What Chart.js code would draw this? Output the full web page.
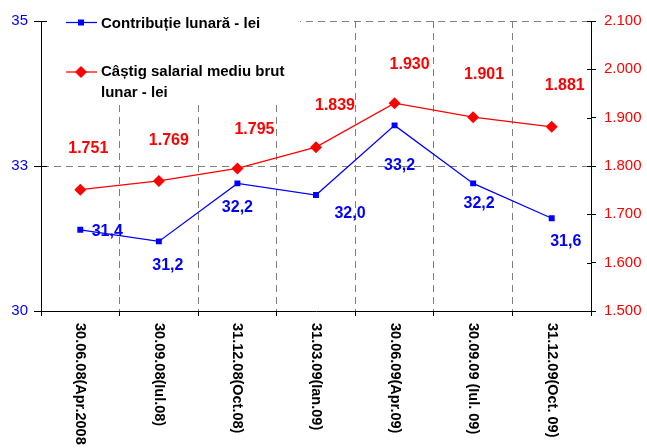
<!DOCTYPE html>
<html>
<head>
<meta charset="utf-8">
<script src="https://cdn.jsdelivr.net/npm/chart.js@4.4.1/dist/chart.umd.min.js"></script>
<style>
  html, body { margin: 0; padding: 0; background: #fff; }
  #wrap { width: 647px; height: 448px; position: relative; }
</style>
</head>
<body>
<div id="wrap"><canvas id="myChart"></canvas></div>
<script>
const categories = ['30.06.08(Apr.2008', '30.09.08(Iul.08)', '31.12.08(Oct.08)', '31.03.09(Ian.09)',
    '30.06.09(Apr.09)', '30.09.09 (Iul. 09)', '31.12.09(Oct. 09)'];
const contributie = [31.4, 31.2, 32.2, 32.0, 33.2, 32.2, 31.6];
const castig = [1751, 1769, 1795, 1839, 1930, 1901, 1881];
const leftTicks = { min: 30, max: 35, step: 2.5 };
const rightTicks = { min: 1500, max: 2100, step: 100 };
const seriesNames = ['Contribuție lunară - lei', ['Câștig salarial mediu brut', 'lunar - lei']];

// where each value label sits relative to its point (px)
const blueLabelOffsets = [[27, 2], [9, 24], [0, 24], [34, 19], [5, 40], [6, 20], [14, 23]];
const redLabelOffsets = [[8, -41], [10, -40], [17, -39], [19, -42], [15, -39], [11, -43], [13, -41]];

const FONT = "'Liberation Sans', Arial, sans-serif";
const BLUE = '#0000FF';
const RED = '#FF0000';
const DASH = [7, 5];

function thousands(v) {
    return String(Math.round(v)).replace(/\B(?=(\d{3})+(?!\d))/g, '.');
}
function decimalComma(v) {
    return v.toFixed(1).replace('.', ',');
}

const legendBox = {
    id: 'legendBox',
    beforeDatasetsDraw(chart) {
        const ctx = chart.ctx;
        const a = chart.chartArea;
        ctx.save();
        ctx.fillStyle = '#fff';
        ctx.fillRect(a.left + 1, 0, 258, 103);

        // blue item
        ctx.strokeStyle = BLUE;
        ctx.lineWidth = 1.25;
        ctx.beginPath(); ctx.moveTo(66, 22.5); ctx.lineTo(97, 22.5); ctx.stroke();
        ctx.fillStyle = BLUE;
        ctx.fillRect(78, 19.5, 6, 6);

        // red item
        ctx.strokeStyle = RED;
        ctx.beginPath(); ctx.moveTo(66, 72); ctx.lineTo(97, 72); ctx.stroke();
        ctx.fillStyle = RED;
        ctx.beginPath();
        ctx.moveTo(81, 66); ctx.lineTo(87, 72); ctx.lineTo(81, 78); ctx.lineTo(75, 72);
        ctx.closePath(); ctx.fill();

        ctx.fillStyle = '#000';
        ctx.font = 'bold 15px ' + FONT;
        ctx.textAlign = 'left';
        ctx.textBaseline = 'alphabetic';
        ctx.fillText(seriesNames[0], 101, 28);
        ctx.fillText(seriesNames[1][0], 101, 76);
        ctx.fillText(seriesNames[1][1], 101, 97);
        ctx.restore();
    }
};

const labelsPlugin = {
    id: 'labelsPlugin',
    afterDatasetsDraw(chart) {
        const ctx = chart.ctx;
        ctx.save();

        // inner half of the y tick marks (they cross the axis)
        const yl = chart.scales.y, yr = chart.scales.y1;
        ctx.strokeStyle = '#000';
        ctx.lineWidth = 1;
        ctx.beginPath();
        yl.ticks.forEach(t => {
            const py = Math.round(yl.getPixelForValue(t.value)) + 0.5;
            ctx.moveTo(yl.right, py); ctx.lineTo(yl.right + 6, py);
        });
        yr.ticks.forEach(t => {
            const py = Math.round(yr.getPixelForValue(t.value)) + 0.5;
            ctx.moveTo(yr.left - 4, py); ctx.lineTo(yr.left, py);
        });
        ctx.stroke();

        ctx.font = 'bold 16px ' + FONT;
        ctx.textAlign = 'center';
        ctx.textBaseline = 'middle';

        const m0 = chart.getDatasetMeta(0).data;
        ctx.fillStyle = BLUE;
        m0.forEach((pt, i) => {
            ctx.fillText(decimalComma(contributie[i]), pt.x + blueLabelOffsets[i][0], pt.y + blueLabelOffsets[i][1]);
        });
        const m1 = chart.getDatasetMeta(1).data;
        ctx.fillStyle = RED;
        m1.forEach((pt, i) => {
            ctx.fillText(thousands(castig[i]), pt.x + redLabelOffsets[i][0], pt.y + redLabelOffsets[i][1]);
        });

        // category labels, rotated clockwise
        const xs = chart.scales.x;
        ctx.fillStyle = '#000';
        ctx.font = 'bold 14.5px ' + FONT;
        ctx.textAlign = 'left';
        categories.forEach((c, i) => {
            ctx.save();
            ctx.translate(xs.getPixelForValue(i), xs.top + 12);
            ctx.rotate(Math.PI / 2);
            ctx.fillText(c, 0, 0);
            ctx.restore();
        });
        ctx.restore();
    }
};

const ctx = document.getElementById('myChart').getContext('2d');
const myChart = new Chart(ctx, {
    type: 'line',
    data: {
        labels: categories,
        datasets: [
            {
                label: 'Contribuție lunară - lei',
                data: contributie,
                yAxisID: 'y',
                borderColor: BLUE,
                backgroundColor: BLUE,
                borderWidth: 1.25,
                pointStyle: 'rect',
                pointRadius: 4.2,
                pointBorderWidth: 0,
                tension: 0,
                fill: false
            },
            {
                label: 'Câștig salarial mediu brut lunar - lei',
                data: castig,
                yAxisID: 'y1',
                borderColor: RED,
                backgroundColor: RED,
                borderWidth: 1.25,
                pointStyle: 'rectRot',
                pointRadius: 6,
                pointBorderWidth: 0,
                tension: 0,
                fill: false
            }
        ]
    },
    options: {
        responsive: true,
        maintainAspectRatio: false,
        animation: false,
        layout: { padding: { top: 21, left: 0, right: 0, bottom: 0 } },
        plugins: { legend: { display: false }, tooltip: { enabled: false } },
        scales: {
            x: {
                offset: true,
                grid: {
                    offset: true,
                    color: (c) => (c.index === 0 || c.index === categories.length) ? 'rgba(0,0,0,0)' : '#808080',
                    tickColor: '#000',
                    tickLength: 5,
                    lineWidth: 1
                },
                border: { color: '#000', width: 1, dash: DASH },
                ticks: { display: false },
                afterFit: (s) => { s.height = 137; }
            },
            y: {
                position: 'left',
                min: leftTicks.min,
                max: leftTicks.max,
                ticks: {
                    stepSize: leftTicks.step,
                    color: BLUE,
                    font: { family: FONT, size: 15 },
                    padding: 6,
                    callback: (v) => Math.round(v)
                },
                grid: {
                    color: (c) => (c.tick && c.tick.value === leftTicks.min) ? 'rgba(0,0,0,0)' : '#808080',
                    tickColor: '#000',
                    tickLength: 7
                },
                border: { color: '#000', width: 1, dash: DASH },
                afterFit: (s) => { s.width = 41; }
            },
            y1: {
                position: 'right',
                min: rightTicks.min,
                max: rightTicks.max,
                ticks: {
                    stepSize: rightTicks.step,
                    color: RED,
                    font: { family: FONT, size: 15 },
                    padding: 8,
                    callback: (v) => thousands(v)
                },
                grid: { drawOnChartArea: false, tickColor: '#000', tickLength: 5 },
                border: { color: '#000', width: 1 },
                afterFit: (s) => { s.width = 56; }
            }
        }
    },
    plugins: [legendBox, labelsPlugin]
});
</script>
</body>
</html>
